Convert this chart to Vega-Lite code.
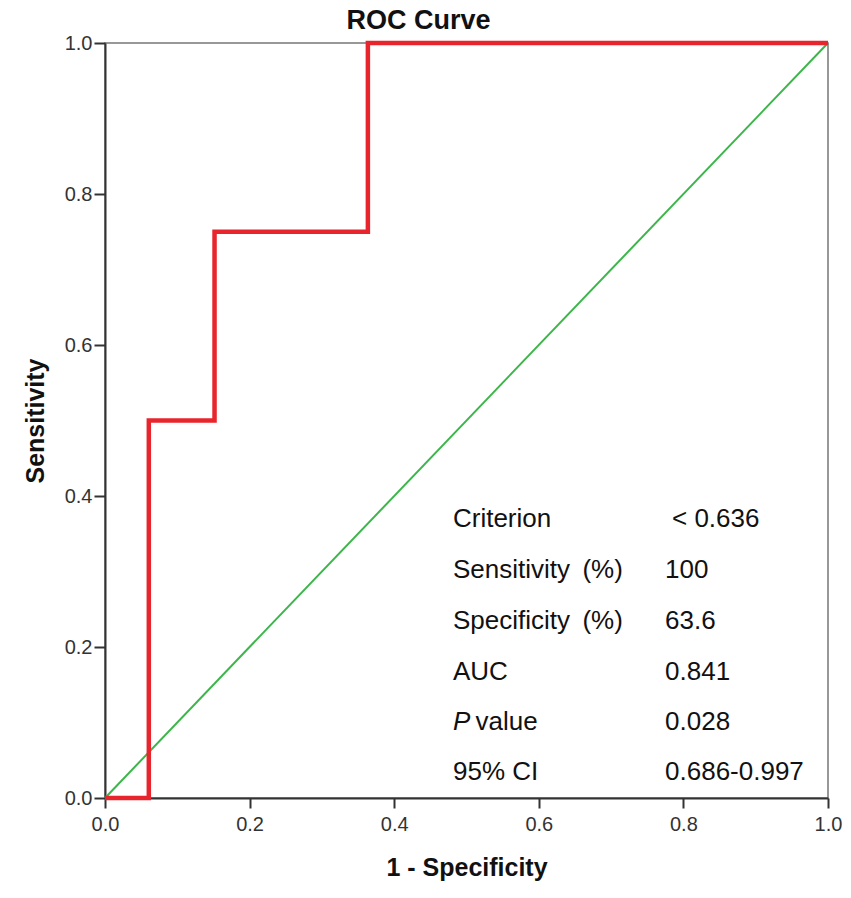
{
  "$schema": "https://vega.github.io/schema/vega-lite/v6.json",
  "width": 723,
  "height": 755,
  "autosize": "none",
  "padding": {"left": 105, "top": 43, "right": 23, "bottom": 100},
  "background": "white",
  "title": {
    "text": "ROC Curve",
    "fontSize": 27,
    "fontWeight": "bold",
    "font": "Liberation Sans",
    "color": "#111",
    "anchor": "middle",
    "frame": "group",
    "dx": -48,
    "dy": 14,
    "offset": 12
  },
  "datasets": {
    "roc": [
      {"step": 1, "fpr": 0, "tpr": 0},
      {"step": 2, "fpr": 0.0606, "tpr": 0},
      {"step": 3, "fpr": 0.0606, "tpr": 0.5},
      {"step": 4, "fpr": 0.1515, "tpr": 0.5},
      {"step": 5, "fpr": 0.1515, "tpr": 0.75},
      {"step": 6, "fpr": 0.3636, "tpr": 0.75},
      {"step": 7, "fpr": 0.3636, "tpr": 1},
      {"step": 8, "fpr": 1, "tpr": 1}
    ],
    "diag": [
      {"fpr": 0, "tpr": 0},
      {"fpr": 1, "tpr": 1}
    ],
    "stats": [
      {"label": "Criterion", "value": "< 0.636", "lx": 0.4813, "vx": 0.7842, "y": 0.3695},
      {"label": "Sensitivity\u2009 (%)", "value": "100", "lx": 0.4813, "vx": 0.7746, "y": 0.302},
      {"label": "Specificity\u2009 (%)", "value": "63.6", "lx": 0.4813, "vx": 0.7746, "y": 0.2344},
      {"label": "AUC", "value": "0.841", "lx": 0.4813, "vx": 0.7746, "y": 0.1669},
      {"label": "value", "value": "0.028", "lx": 0.5125, "vx": 0.7746, "y": 0.1007},
      {"label": "95% CI", "value": "0.686-0.997", "lx": 0.4813, "vx": 0.7746, "y": 0.0344}
    ],
    "italic": [
      {"label": "P", "lx": 0.4813, "y": 0.1007}
    ]
  },
  "layer": [
    {
      "data": {"name": "diag"},
      "mark": {"type": "line", "color": "#3cb54a", "strokeWidth": 2},
      "encoding": {
        "x": {
          "field": "fpr",
          "type": "quantitative",
          "scale": {"domain": [0, 1], "nice": false},
          "title": "1 - Specificity",
          "axis": {
            "values": [0, 0.2, 0.4, 0.6, 0.8, 1],
            "format": ".1f",
            "grid": false,
            "domainColor": "#333",
            "domainWidth": 2,
            "tickColor": "#333",
            "tickWidth": 2,
            "tickSize": 10,
            "labelPadding": 6,
            "labelFontSize": 20,
            "labelColor": "#333",
            "labelFont": "Liberation Sans",
            "labelFlush": false,
            "titleFontSize": 25,
            "titleFontWeight": "bold",
            "titleFont": "Liberation Sans",
            "titleColor": "#111",
            "titlePadding": 21
          }
        },
        "y": {
          "field": "tpr",
          "type": "quantitative",
          "scale": {"domain": [0, 1], "nice": false},
          "title": "Sensitivity",
          "axis": {
            "values": [0, 0.2, 0.4, 0.6, 0.8, 1],
            "format": ".1f",
            "grid": false,
            "domainColor": "#333",
            "domainWidth": 2,
            "tickColor": "#333",
            "tickWidth": 2,
            "tickSize": 11,
            "labelPadding": 2,
            "labelFontSize": 20,
            "labelColor": "#333",
            "labelFont": "Liberation Sans",
            "labelFlush": false,
            "titleFontSize": 25,
            "titleFontWeight": "bold",
            "titleFont": "Liberation Sans",
            "titleColor": "#111",
            "titlePadding": 16
          }
        }
      }
    },
    {
      "data": {"name": "roc"},
      "mark": {"type": "line", "color": "#e8252d", "strokeWidth": 4.5, "clip": false},
      "encoding": {
        "x": {"field": "fpr", "type": "quantitative"},
        "y": {"field": "tpr", "type": "quantitative"},
        "order": {"field": "step", "type": "quantitative"}
      }
    },
    {
      "data": {"name": "stats"},
      "mark": {"type": "text", "align": "left", "baseline": "middle", "fontSize": 26, "font": "Liberation Sans", "color": "#111"},
      "encoding": {
        "x": {"field": "lx", "type": "quantitative"},
        "y": {"field": "y", "type": "quantitative"},
        "text": {"field": "label"}
      }
    },
    {
      "data": {"name": "stats"},
      "mark": {"type": "text", "align": "left", "baseline": "middle", "fontSize": 26, "font": "Liberation Sans", "color": "#111"},
      "encoding": {
        "x": {"field": "vx", "type": "quantitative"},
        "y": {"field": "y", "type": "quantitative"},
        "text": {"field": "value"}
      }
    },
    {
      "data": {"name": "italic"},
      "mark": {"type": "text", "align": "left", "baseline": "middle", "fontSize": 26, "font": "Liberation Sans", "fontStyle": "italic", "color": "#111"},
      "encoding": {
        "x": {"field": "lx", "type": "quantitative"},
        "y": {"field": "y", "type": "quantitative"},
        "text": {"field": "label"}
      }
    }
  ],
  "config": {
    "view": {"stroke": "#777", "strokeWidth": 1.5}
  }
}
